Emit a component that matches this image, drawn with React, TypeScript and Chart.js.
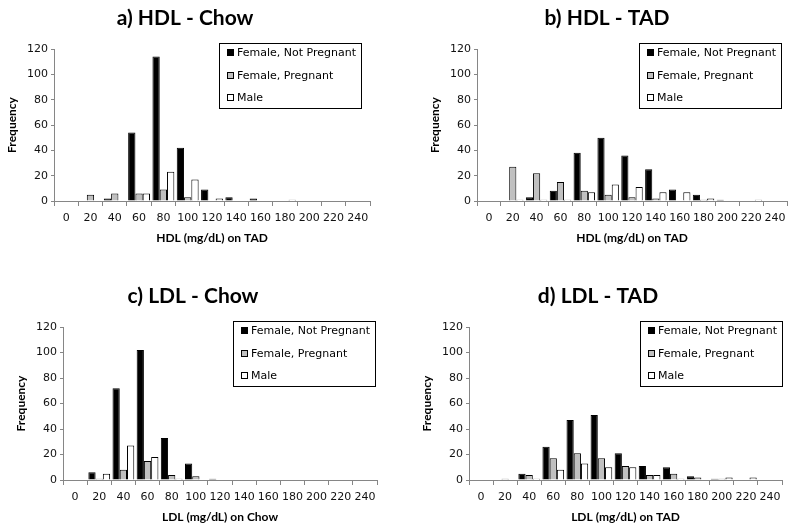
import React, { useEffect, useRef } from 'react';
import { Chart, registerables } from 'chart.js';

Chart.register(...registerables);

// ---------- data ----------
const categories = ['0', '20', '40', '60', '80', '100', '120', '140', '160', '180', '200', '220', '240'];
const seriesNames = ['Female, Not Pregnant', 'Female, Pregnant', 'Male'];
const seriesColors = ['#000000', '#c0c0c0', '#ffffff'];

const hdlChowNotPregnant = [0, 0, 2, 54, 114, 42, 9, 3, 2, 0, 0, 0, 0];
const hdlChowPregnant = [0, 5, 6, 6, 9, 3, 0, 0, 0, 0, 0, 0, 0];
const hdlChowMale = [0, 0, 0, 6, 23, 17, 2, 0, 0, 1, 0, 0, 0];

const hdlTadNotPregnant = [0, 0, 3, 8, 38, 50, 36, 25, 9, 5, 1, 0, 0];
const hdlTadPregnant = [0, 27, 22, 15, 8, 5, 3, 2, 0, 1, 0, 0, 0];
const hdlTadMale = [0, 1, 1, 1, 7, 13, 11, 7, 7, 2, 0, 1, 0];

const ldlChowNotPregnant = [0, 6, 72, 102, 33, 13, 1, 0, 0, 0, 0, 0, 0];
const ldlChowPregnant = [0, 1, 8, 15, 4, 3, 0, 0, 0, 0, 0, 0, 0];
const ldlChowMale = [0, 5, 27, 18, 1, 0, 0, 0, 0, 0, 0, 0, 0];

const ldlTadNotPregnant = [0, 0, 5, 26, 47, 51, 21, 11, 10, 3, 1, 0, 0];
const ldlTadPregnant = [0, 1, 4, 17, 21, 17, 11, 4, 5, 2, 1, 0, 0];
const ldlTadMale = [0, 0, 1, 8, 13, 10, 10, 4, 1, 0, 2, 2, 0];

const yMin = 0;
const yMax = 120;
const yStep = 20;

// ---------- layout per panel ----------
const CELL_W = 400;
const CELL_H = 266;

type Panel = {
  title: string;
  xTitle: string;
  series: number[][];
  col: number;
  row: number;
  axisLeft: number;
  plotRight: number;
  plotTop: number;
  plotBottom: number;
  titleCenter: number;
  titleY: number;
  legendInset: number;
};

const panels: Panel[] = [
  { title: 'a) HDL - Chow', xTitle: 'HDL (mg/dL) on TAD', series: [hdlChowNotPregnant, hdlChowPregnant, hdlChowMale],
    col: 0, row: 0, axisLeft: 54, plotRight: 370, plotTop: 49, plotBottom: 201, titleCenter: 185, titleY: 18, legendInset: 9 },
  { title: 'b) HDL - TAD', xTitle: 'HDL (mg/dL) on TAD', series: [hdlTadNotPregnant, hdlTadPregnant, hdlTadMale],
    col: 1, row: 0, axisLeft: 77, plotRight: 387, plotTop: 49, plotBottom: 201, titleCenter: 207, titleY: 18, legendInset: 6 },
  { title: 'c) LDL - Chow', xTitle: 'LDL (mg/dL) on Chow', series: [ldlChowNotPregnant, ldlChowPregnant, ldlChowMale],
    col: 0, row: 1, axisLeft: 63, plotRight: 377, plotTop: 61, plotBottom: 214, titleCenter: 193, titleY: 30, legendInset: 2 },
  { title: 'd) LDL - TAD', xTitle: 'LDL (mg/dL) on TAD', series: [ldlTadNotPregnant, ldlTadPregnant, ldlTadMale],
    col: 1, row: 1, axisLeft: 69, plotRight: 382, plotTop: 61, plotBottom: 214, titleCenter: 198, titleY: 30, legendInset: 0 },
];

const AXIS_COLOR = '#868686';
const TICK_FONT = { family: '"DejaVu Sans", Verdana, sans-serif', size: 11 };
const TITLE_FONT_SIZE = 21;
const AXIS_TITLE_FONT_SIZE = 12;

const boxLegend = {
  id: 'boxLegend',
  afterDatasetsDraw(chart: any, _args: any, opts: any) {
    const { ctx, chartArea } = chart;
    ctx.save();
    ctx.font = '11px "DejaVu Sans", Verdana, sans-serif';
    const datasets = chart.data.datasets;
    const textW = Math.max(...datasets.map((d: any) => ctx.measureText(d.label).width));
    const sw = 7;
    const padX = 8;
    const gap = 3;
    const rowH = 22.5;
    const w = Math.round(padX + sw + gap + textW + 5);
    const h = 65;
    const right = Math.round(chartArea.right - (opts.inset || 0));
    const left = right - w;
    const top = Math.round(chartArea.top - 6);
    ctx.fillStyle = '#ffffff';
    ctx.fillRect(left, top, w, h);
    ctx.strokeStyle = '#000000';
    ctx.lineWidth = 1;
    ctx.strokeRect(left + 0.5, top + 0.5, w, h);
    datasets.forEach((d: any, i: number) => {
      const cy = Math.round(top + 10 + i * rowH);
      ctx.fillStyle = d.backgroundColor;
      ctx.fillRect(left + padX, cy - 4, sw, sw);
      ctx.strokeStyle = '#000000';
      ctx.strokeRect(left + padX + 0.5, cy - 4 + 0.5, sw - 1, sw - 1);
      ctx.fillStyle = '#000000';
      ctx.textBaseline = 'middle';
      ctx.textAlign = 'left';
      ctx.fillText(d.label, left + padX + sw + gap, cy);
    });
    ctx.restore();
  },
};

function PanelChart({ p }: { p: Panel }) {
  const ref = useRef<HTMLCanvasElement | null>(null);
  useEffect(() => {
    if (!ref.current) return;
    const padL = 2 * p.titleCenter - p.plotRight;
    const padR = CELL_W - p.plotRight;
    const yWidth = p.axisLeft - padL;
    const titleLH = TITLE_FONT_SIZE * 1.2;
    const titlePadTop = p.titleY - titleLH / 2;
    const titlePadBottom = p.plotTop - titlePadTop - titleLH;
    const axisTitleLH = AXIS_TITLE_FONT_SIZE * 1.2;
    const yTitlePad = Math.max(0, p.axisLeft - 42 - padL - axisTitleLH / 2);
    const xBoxH = 5 + 11 * 1.2 + 2 * 6 + axisTitleLH;
    const padB = CELL_H - p.plotBottom - xBoxH;

    const chart = new Chart(ref.current, {
      type: 'bar',
      data: {
        labels: categories,
        datasets: p.series.map((vals, i) => ({
          label: seriesNames[i],
          data: vals,
          backgroundColor: seriesColors[i],
          borderColor: '#000000',
          borderWidth: 1,
          categoryPercentage: 0.9,
          barPercentage: 1.0,
        })),
      },
      options: {
        responsive: false,
        animation: false,
        layout: { padding: { left: padL, right: padR, top: 0, bottom: padB } },
        plugins: {
          legend: { display: false },
          tooltip: { enabled: false },
          title: {
            display: true,
            text: p.title,
            color: '#000000',
            font: { family: 'Lato, "Open Sans", sans-serif', weight: 'bold', size: TITLE_FONT_SIZE },
            padding: { top: titlePadTop, bottom: titlePadBottom },
          },
          boxLegend: { inset: p.legendInset },
        } as any,
        scales: {
          x: {
            offset: true,
            grid: { display: true, drawOnChartArea: false, offset: true, tickLength: 5, color: AXIS_COLOR },
            border: { display: true, color: AXIS_COLOR, width: 1 },
            ticks: { color: '#111111', font: TICK_FONT, padding: 6, maxRotation: 0, autoSkip: false },
            title: {
              display: true,
              text: p.xTitle,
              color: '#000000',
              font: { family: 'Lato, sans-serif', weight: 'bold', size: AXIS_TITLE_FONT_SIZE },
              padding: { top: 0, bottom: 0 },
            },
          },
          y: {
            min: yMin,
            max: yMax,
            grid: { display: true, drawOnChartArea: false, tickLength: 3, color: AXIS_COLOR },
            border: { display: true, color: AXIS_COLOR, width: 1 },
            ticks: { stepSize: yStep, color: '#111111', font: TICK_FONT, padding: 3 },
            title: {
              display: true,
              text: 'Frequency',
              color: '#000000',
              font: { family: 'Lato, sans-serif', weight: 'bold', size: AXIS_TITLE_FONT_SIZE },
              padding: { top: yTitlePad, bottom: 0 },
            },
            afterFit: (scale: any) => {
              scale.width = yWidth;
            },
          },
        },
      },
      plugins: [boxLegend],
    });
    return () => chart.destroy();
  }, [p]);
  return (
    <canvas
      ref={ref}
      width={CELL_W}
      height={CELL_H}
      style={{ position: 'absolute', left: p.col * CELL_W, top: p.row * CELL_H, width: CELL_W, height: CELL_H }}
    />
  );
}

export default function App() {
  return (
    <div style={{ position: 'absolute', left: 0, top: 0, width: 800, height: 532, background: '#ffffff' }}>
      {panels.map((p) => (
        <PanelChart key={p.title} p={p} />
      ))}
    </div>
  );
}
